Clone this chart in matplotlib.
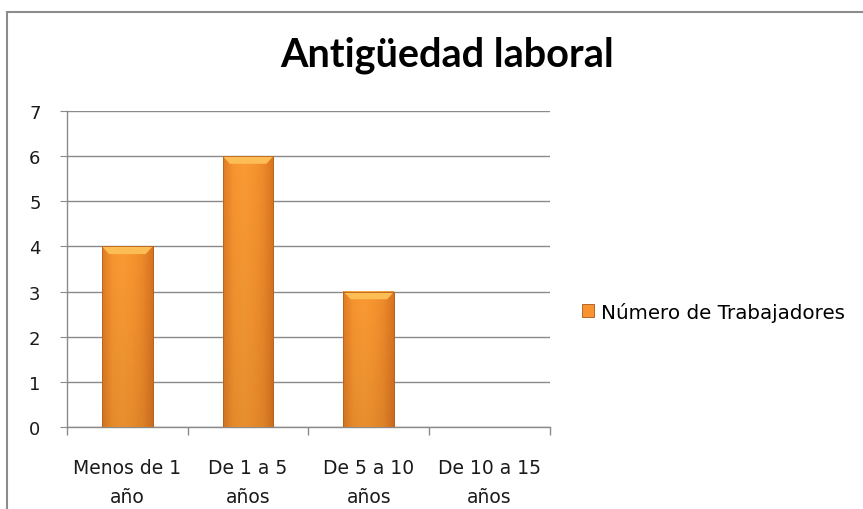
import matplotlib
matplotlib.use("Agg")
import matplotlib.pyplot as plt
from matplotlib.patches import Rectangle, Polygon
from matplotlib.colors import LinearSegmentedColormap
import numpy as np

# data
categories = ["Menos de 1\naño", "De 1 a 5\naños", "De 5 a 10\naños", "De 10 a 15\naños"]
values = [4, 6, 3, 0]
series_name = "Número de Trabajadores"
yticks = [0, 1, 2, 3, 4, 5, 6, 7]

plt.rcParams['font.family'] = ['DejaVu Sans']

fig = plt.figure(figsize=(8.63, 5.10), dpi=100)
ax = fig.add_axes([0.0776, 0.1608, 0.5597, 0.6196])

# outer chart frame (cut off at right/bottom like the screenshot)
fig.add_artist(Rectangle((7 / 863, -0.1), 1.2, 0.1 + 497 / 510, transform=fig.transFigure,
                         fill=False, edgecolor="#8c8c8c", linewidth=1.5))

x = np.arange(len(categories))
bars = ax.bar(x, values, width=0.42, color="#F7942F", edgecolor="#A9581A",
              linewidth=0.6, zorder=3, label=series_name)

# soft horizontal shading + vertical fade, like the Excel bevel
side = LinearSegmentedColormap.from_list(
    "side", ["#E07B24", "#F7952F", "#F99A34", "#F7952F", "#EE8A2A", "#D97421"])
xs = np.linspace(0, 1, 64)
for b in bars:
    h = b.get_height()
    if h <= 0:
        continue
    bx, bw = b.get_x(), b.get_width()
    grad = np.tile(xs, (32, 1))
    shade = np.linspace(0.93, 1.0, 32)[:, None]
    rgb = side(grad)[:, :, :3] * shade[:, :, None]
    ax.imshow(rgb, extent=(bx, bx + bw, 0, h), origin="lower", aspect="auto",
              zorder=3.5, interpolation="bilinear")
    bev = 0.17
    ins = bw * 0.14
    ax.add_patch(Polygon([(bx, h), (bx + bw, h), (bx + bw - ins, h - bev), (bx + ins, h - bev)],
                         closed=True, facecolor="#FCBD55", edgecolor="none", zorder=4))
    ax.add_patch(Rectangle((bx, 0), bw, h, fill=False, edgecolor="#B5621C", linewidth=0.6, zorder=5))

ax.set_xlim(-0.5, len(categories) - 0.5)
ax.set_ylim(0, 7)
ax.set_yticks(yticks)
ax.yaxis.grid(True, color="#8a8a8a", linewidth=1.0, zorder=0)
ax.set_axisbelow(True)

ax.set_xticks(x)
ax.set_xticklabels(categories, fontsize=13.5, color="#1a1a1a", linespacing=1.72)
ax.tick_params(axis="x", which="major", length=0, pad=22)
ax.set_xticks(np.arange(-0.5, len(categories)), minor=True)
ax.tick_params(axis="x", which="minor", length=6, color="#8a8a8a", width=1)
ax.tick_params(axis="y", length=5, color="#8a8a8a", labelsize=13, labelcolor="#1a1a1a", pad=14)

for s in ["top", "right"]:
    ax.spines[s].set_visible(False)
for s in ["left", "bottom"]:
    ax.spines[s].set_color("#8a8a8a")
    ax.spines[s].set_linewidth(1.0)

fig.text(447 / 863, 1 - 55 / 510, "Antigüedad laboral", ha="center", va="center",
         fontsize=28.5, fontweight="bold", family=["Lato", "DejaVu Sans"])

ax.legend(loc="center left", bbox_to_anchor=(1.03, 0.365), frameon=False, fontsize=14.3,
          handlelength=0.6, handleheight=0.6, handletextpad=0.35)

fig.savefig("out.png", dpi=100)
